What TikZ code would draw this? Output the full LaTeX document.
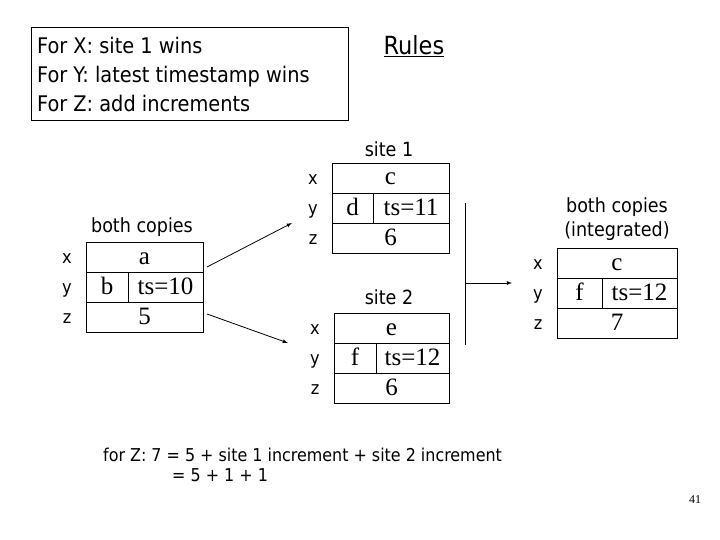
\documentclass[tikz,border=0pt]{standalone}
\usepackage{fontspec}
\setmainfont{Liberation Serif}
\newfontfamily\tahoma{DejaVu Sans Condensed}
\usetikzlibrary{positioning}
% one record: #1 name, #2 left, #3 top, #4 right, #5 divider, #6 x, #7 y-left, #8 y-right, #9 z
\newcommand{\record}[9]{
  \node[draw,rectangle,inner sep=0pt,minimum width={#4-#2},minimum height=90,anchor=north west] (#1) at (#2,#3) {};
  \draw (#2,#3+30) -- (#4,#3+30);
  \draw (#2,#3+60) -- (#4,#3+60);
  \draw (#5,#3+30) -- (#5,#3+60);
  \node[cellfont] (#1x) at ({(#2+#4)/2},#3+15) {#6};
  \node[cellfont] (#1yl) at ({(#2+#5)/2},#3+45) {#7};
  \node[cellfont] (#1yr) at ({(#5+#4)/2},#3+45) {#8};
  \node[cellfont] (#1z) at ({(#2+#4)/2},#3+75) {#9};
  \node[keyfont] (#1kx) at ([xshift=-19]#1.north west |- #1x) {x};
  \node[keyfont] (#1ky) at ([xshift=-19]#1.north west |- #1yl) {y};
  \node[keyfont] (#1kz) at ([xshift=-19]#1.north west |- #1z) {z};
}
\begin{document}
\begin{tikzpicture}[x=1pt,y=-1pt,
    cellfont/.style={font=\fontsize{25}{27}\selectfont,inner sep=0pt,text height=12pt,text depth=0pt,yshift=-1pt},
    keyfont/.style={font=\tahoma\fontsize{18}{20}\selectfont,inner sep=0pt,text height=9pt,text depth=0pt,yshift=-1pt},
    sans/.style={font=\tahoma\fontsize{21.5}{29}\selectfont,inner sep=0pt},
    label/.style={font=\tahoma\fontsize{19.5}{24}\selectfont,inner sep=0pt},
    >=latex]
  \useasboundingbox (0,0) rectangle (720,540);

  % rules
  \node[draw,rectangle,inner sep=0pt,minimum width=317,minimum height=93,anchor=north west] (rules) at (31,27) {};
  \node[sans,align=left,anchor=west] (rtext) at (37,74) {For X: site 1 wins\\For Y: latest timestamp wins\\For Z: add increments};
  \node[sans,font=\tahoma\fontsize{25}{27}\selectfont] (title) at (414,46) {\underline{Rules}};

  % records
  \record{both}{86}{242}{203}{128}{a}{b}{ts=10}{5}
  \record{siteA}{332}{163}{449}{373}{c}{d}{ts=11}{6}
  \record{siteB}{334}{313}{449}{376}{e}{f}{ts=12}{6}
  \record{merged}{557}{248}{677}{602}{c}{f}{ts=12}{7}

  \node[label] (lboth) at (142,227) {both copies};
  \node[label] (lsiteA) at (389,149) {site 1};
  \node[label] (lsiteB) at (389,297) {site 2};
  \node[label,align=center] (lmerged) at (617,219) {both copies\\(integrated)};

  % arrows
  \coordinate (fromA) at (207,267);
  \coordinate (toA) at (292,223);
  \coordinate (fromB) at (207,314);
  \coordinate (toB) at (288,343);
  \draw[thick,->] (fromA) -- (toA);
  \draw[thick,->] (fromB) -- (toB);
  \coordinate (bartop) at (465,203);
  \coordinate (barbot) at (465,345);
  \coordinate (barmid) at (465,283);
  \coordinate (toM) at (512,283);
  \draw (bartop) -- (barbot);
  \draw[thick,->] (barmid) -- (toM);

  % note
  \node[sans,font=\tahoma\fontsize{17.7}{20}\selectfont,align=left,anchor=north west] (note) at (103,448) {for Z: 7 = 5 + site 1 increment + site 2 increment\\\hspace{69pt}= 5 + 1 + 1};
  \node[font=\fontsize{12}{14}\selectfont] (page) at (695,500) {41};
\end{tikzpicture}
\end{document}
